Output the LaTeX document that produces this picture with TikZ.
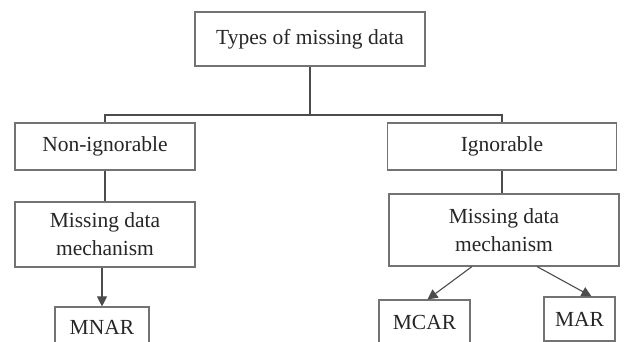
\documentclass[tikz,border=0pt]{standalone}
\usepackage{fontspec}
\setmainfont{Liberation Serif}
\usetikzlibrary{arrows.meta}

\begin{document}
\begin{tikzpicture}[x=1pt, y=-1pt,
  box/.style = {draw=black!55, line width=1.1pt, text=black!85, align=center,
    inner sep=0pt, font=\fontsize{21.5}{28}\selectfont},
  link/.style = {draw=black!70, line width=1.1pt},
  arrow/.style = {link, -{Triangle[width=10pt, length=10pt]}}]
\useasboundingbox (0,0) rectangle (625,342);

\node[box, minimum width=230pt, minimum height=54pt] (types) at (310,39) {Types of missing data};
\node[box, minimum width=180pt, minimum height=47pt] (nonign) at (105,146.5) {Non-ignorable};
\node[box, minimum width=229pt, minimum height=47pt] (ign) at (502,146.5) {Ignorable};
\node[box, minimum width=180pt, minimum height=65pt] (mechL) at (105,234.5) {Missing data\\mechanism};
\node[box, minimum width=230pt, minimum height=72pt] (mechR) at (504,230) {Missing data\\mechanism};
\node[box, minimum width=94pt, minimum height=40pt] (mnar) at (102,327) {MNAR};
\node[box, minimum width=91pt, minimum height=44pt] (mcar) at (424.5,322) {MCAR};
\node[box, minimum width=71pt, minimum height=44pt] (mar) at (579.5,319) {MAR};
\coordinate (split) at (310,115);

\draw[link] (types) -- (split);
\draw[link] (nonign.north) |- (split) -| (ign.north);
\draw[link] (nonign) -- (mechL);
\draw[link] (ign.south) -- (ign.south |- mechR.north);
\draw[arrow] (mechL.south -| mnar.north) -- (mnar.north);
\draw[arrow] ([xshift=-32pt]mechR.south) -- ([xshift=3pt]mcar.north);
\draw[arrow] ([xshift=33pt]mechR.south) -- ([xshift=12pt]mar.north);
\end{tikzpicture}
\end{document}
